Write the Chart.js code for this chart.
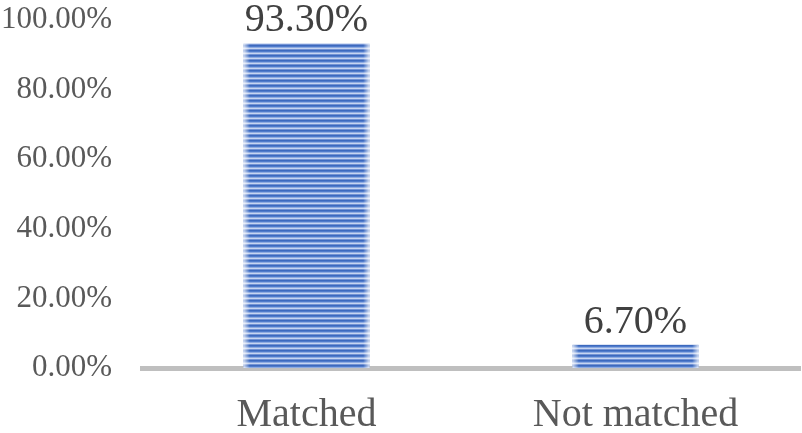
<!DOCTYPE html>
<html>
<head>
  <meta charset="UTF-8">
  <title>Matched vs Not matched</title>
  <script src="https://cdn.jsdelivr.net/npm/chart.js"></script>
  <style>
    html, body { margin: 0; padding: 0; background: #fff; }
    #wrap { width: 802px; height: 433px; }
  </style>
</head>
<body>
  <div id="wrap"><canvas id="chart" width="802" height="433"></canvas></div>
  <script>
    const categories = ['Matched', 'Not matched'];
    const percentages = [93.3, 6.7];
    const tickValues = [0, 20, 40, 60, 80, 100];

    const FONT = "'Liberation Serif', 'Times New Roman', serif";

    // horizontal stripe fill for the bars
    const makeStripes = () => {
      const c = document.createElement('canvas');
      c.width = 4;
      c.height = 5;
      const g = c.getContext('2d');
      const rows = ['#3c69be', '#4f7bcb', '#8eabe2', '#c6d5f1', '#7393d4'];
      rows.forEach((col, i) => {
        g.fillStyle = col;
        g.fillRect(0, i, 4, 1);
      });
      return g.createPattern(c, 'repeat');
    };

    // soft light edges + value labels above each bar
    const barExtras = {
      id: 'barExtras',
      afterDatasetsDraw(chart) {
        const ctx = chart.ctx;
        const meta = chart.getDatasetMeta(0);
        meta.data.forEach((bar, i) => {
          const left = bar.x - bar.width / 2;
          const right = bar.x + bar.width / 2;
          const grad = ctx.createLinearGradient(left, 0, right, 0);
          grad.addColorStop(0, 'rgba(255,255,255,0.75)');
          grad.addColorStop(0.05, 'rgba(255,255,255,0)');
          grad.addColorStop(0.95, 'rgba(255,255,255,0)');
          grad.addColorStop(1, 'rgba(255,255,255,0.75)');
          ctx.save();
          ctx.fillStyle = grad;
          ctx.fillRect(left, bar.y, bar.width, bar.base - bar.y);
          ctx.restore();

          ctx.save();
          ctx.font = '40px ' + FONT;
          ctx.fillStyle = '#404040';
          ctx.textAlign = 'center';
          ctx.textBaseline = 'alphabetic';
          ctx.fillText(percentages[i].toFixed(2) + '%', bar.x, bar.y - 12);
          ctx.restore();
        });
      }
    };

    const ctx = document.getElementById('chart').getContext('2d');
    new Chart(ctx, {
      type: 'bar',
      data: {
        labels: categories,
        datasets: [{
          data: percentages,
          backgroundColor: makeStripes(),
          borderWidth: 0,
          barPercentage: 1,
          categoryPercentage: 0.383
        }]
      },
      options: {
        responsive: false,
        animation: false,
        events: [],
        layout: { padding: { top: 20, right: 2, left: 0, bottom: 0 } },
        plugins: {
          legend: { display: false },
          tooltip: { enabled: false }
        },
        scales: {
          x: {
            grid: { display: false, drawTicks: false },
            border: { display: true, color: '#bfbfbf', width: 5 },
            ticks: {
              padding: 23,
              color: '#595959',
              font: { family: FONT, size: 40 }
            },
            afterFit(scale) { scale.height = 65; }
          },
          y: {
            min: 0,
            max: 100,
            grid: { display: false, drawTicks: false },
            border: { display: false },
            afterBuildTicks(scale) {
              scale.ticks = tickValues.map(v => ({ value: v }));
            },
            ticks: {
              padding: 30,
              color: '#595959',
              font: { family: FONT, size: 31 },
              callback: v => v.toFixed(2) + '%'
            },
            afterFit(scale) {
              scale.width = 142;
              scale.paddingTop = 0;
              scale.paddingBottom = 0;
            }
          }
        }
      },
      plugins: [barExtras]
    });
  </script>
</body>
</html>
